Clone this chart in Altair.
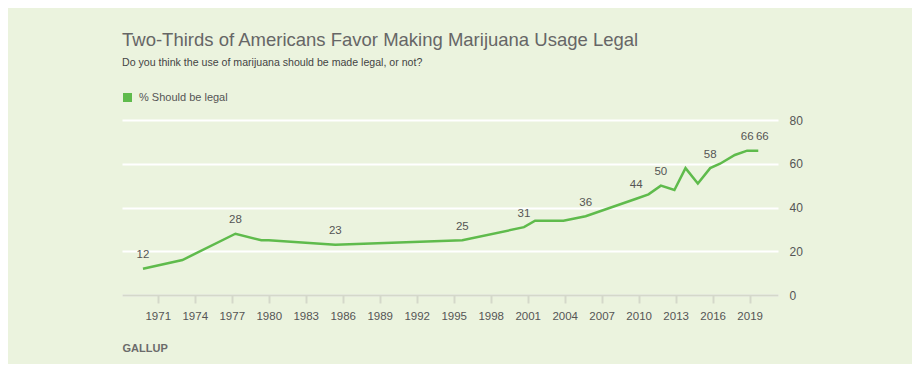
import altair as alt
import pandas as pd

# ---- data ----
years = [1969.8, 1973.0, 1977.3, 1979.4, 1980.0, 1985.4, 1995.7, 2000.7, 2001.6,
         2003.9, 2005.7, 2009.8, 2010.8, 2011.8, 2012.9, 2013.8, 2014.8, 2015.8,
         2016.6, 2017.8, 2018.8, 2019.7]
values = [12, 16, 28, 25, 25, 23, 25, 31, 34, 34, 36, 44, 46, 50, 48, 58, 51, 58,
          60, 64, 66, 66]
labels = ["12", "", "28", "", "", "23", "25", "31", "", "", "36", "44", "", "50",
          "", "", "", "58", "", "", "66", "66"]
series_name = "% Should be legal"
x_ticks = list(range(1971, 2020, 3))
y_ticks = [0, 20, 40, 60, 80]

FONT = "Liberation Sans"
GREEN = "#5fbb4c"
BG = "#ebf3de"
GRAYTXT = "#555555"
AXISGRAY = "#d4d8ca"

df = pd.DataFrame({"year": years, "value": values, "label": labels,
                   "series": series_name})

base = alt.Chart(df)

x_enc = alt.X(
    "year:Q",
    scale=alt.Scale(domain=[1968.1, 2021.3], nice=False, zero=False),
    axis=alt.Axis(
        values=x_ticks, format="d", grid=False,
        title="GALLUP", titleX=0, titleY=53, titleAlign="left",
        titleBaseline="middle", titleFontSize=11, titleFontWeight="bold",
        titleColor="#6b6b6b", titleFont=FONT,
        labelFont=FONT, labelFontSize=11.5, labelColor=GRAYTXT, labelPadding=7,
        tickSize=8, tickColor=AXISGRAY, tickWidth=2,
        domainColor=AXISGRAY, domainWidth=2, zindex=1,
    ),
)
y_enc = alt.Y(
    "value:Q",
    scale=alt.Scale(domain=[0, 80], nice=False),
    axis=alt.Axis(
        orient="right", values=y_ticks, title=None, domain=False, ticks=False,
        labelPadding=11, labelFontSize=12, labelFont=FONT, labelColor=GRAYTXT,
        gridColor="white", gridWidth=2, zindex=0,
    ),
)

line = base.mark_line(strokeWidth=2.5).encode(
    x=x_enc,
    y=y_enc,
    color=alt.Color(
        "series:N",
        scale=alt.Scale(domain=[series_name], range=[GREEN]),
        legend=alt.Legend(
            title=None, orient="none", legendX=0, legendY=-28,
            symbolType="square", symbolSize=81, symbolFillColor=GREEN,
            symbolStrokeColor=GREEN, symbolStrokeWidth=0, labelOffset=6,
            labelFontSize=11, labelFont=FONT, labelColor=GRAYTXT,
        ),
    ),
)

text_main = base.transform_filter("datum.label != '' && datum.year < 2019").mark_text(
    dy=-13.5, fontSize=11.5, font=FONT, color=GRAYTXT
).encode(x="year:Q", y="value:Q", text="label:N")

text_last = base.transform_filter("datum.label != '' && datum.year >= 2019").mark_text(
    dy=-13.5, dx=4, fontSize=11.5, font=FONT, color=GRAYTXT
).encode(x="year:Q", y="value:Q", text="label:N")

chart = (
    alt.layer(line, text_main, text_last)
    .properties(
        width=656,
        height=175,
        title=alt.TitleParams(
            text="Two-Thirds of Americans Favor Making Marijuana Usage Legal",
            subtitle="Do you think the use of marijuana should be made legal, or not?",
            anchor="start", frame="group", font=FONT, fontSize=18.5,
            fontWeight="normal", color="#666666", subtitleFont=FONT,
            subtitleFontSize=10.6, subtitleColor="#444444", subtitlePadding=9,
            offset=23,
        ),
        padding={"left": 114, "top": 112, "right": 134, "bottom": 69},
        autosize=alt.AutoSizeParams(type="none"),
        background=BG,
    )
    .configure_view(stroke=None)
)

chart.save("out.html", embed_options={"renderer": "svg", "actions": False})
